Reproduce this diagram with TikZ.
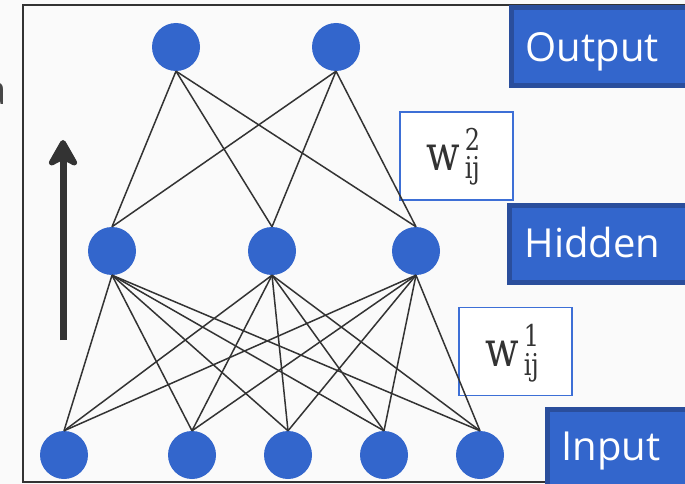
\documentclass[tikz,border=0pt]{standalone}
\usepackage{fontspec}
\setmainfont{Latin Modern Roman}
\newfontfamily\labelfont{Open Sans}
\newfontfamily\weightfont[FakeStretch=0.8]{DejaVu Serif}
\usetikzlibrary{arrows.meta}

\definecolor{neuron}{HTML}{3366CC}
\definecolor{layerfill}{HTML}{3366CC}
\definecolor{layerrim}{HTML}{2A4E9C}
\definecolor{weightrim}{HTML}{3D6FD6}
\definecolor{ink}{HTML}{333333}
\definecolor{paper}{HTML}{FAFAFA}

% weight symbol w with stacked indices, built in text mode
\newcommand{\weightsym}[1]{%
  w\kern5pt\rlap{\raisebox{20pt}{\fontsize{30}{32}\selectfont #1}}%
  \raisebox{-9pt}{\fontsize{30}{32}\selectfont ij}}

\tikzset{
  neuron/.style={circle, fill=neuron, minimum size=48pt, inner sep=0pt},
  synapse/.style={draw=ink, line width=1.5pt},
  layerbox/.style={rectangle, fill=layerfill, draw=layerrim, line width=5pt,
    inner sep=0pt, anchor=north west},
  layertext/.style={inner sep=0pt, anchor=base west, text=white,
    font=\labelfont\fontsize{40}{44}\selectfont},
  weightbox/.style={rectangle, fill=white, draw=weightrim, line width=1.5pt,
    minimum width=113pt, minimum height=88pt, inner sep=0pt},
  weighttext/.style={inner sep=0pt, anchor=base west, text=ink,
    font=\weightfont\fontsize{49}{52}\selectfont},
}

\begin{document}
\begin{tikzpicture}[x=1pt, y=-1pt]
  % canvas
  \fill[paper] (0,0) rectangle (685,484);
  \useasboundingbox (0,0) rectangle (685,484);

  % clipped letter at the left edge
  \node[inner sep=0pt, anchor=base east, text=ink!90,
        font=\labelfont\fontsize{40}{44}\selectfont] (stray) at (7,105) {a};

  % frame
  \draw[ink, line width=2pt] (23,5) rectangle (700,482);

  % upward arrow
  \coordinate (arrowfoot) at (63,340);
  \coordinate (arrowtip) at (63,140);
  \draw[ink, line width=7pt,
        -{Stealth[length=32pt, width=36pt, inset=9pt, round]}]
        (arrowfoot) -- (arrowtip);

  % neurons
  \node[neuron] (o1) at (176,47) {};
  \node[neuron] (o2) at (336,47) {};
  \node[neuron] (h1) at (112,251) {};
  \node[neuron] (h2) at (272,251) {};
  \node[neuron] (h3) at (416,251) {};
  \node[neuron] (i1) at (64,455) {};
  \node[neuron] (i2) at (192,455) {};
  \node[neuron] (i3) at (288,455) {};
  \node[neuron] (i4) at (384,455) {};
  \node[neuron] (i5) at (480,455) {};

  % weight labels
  \node[weightbox] (w2) at (456.5,156) {};
  \node[weighttext] (w2text) at (426,170) {\weightsym{2}};
  \node[weightbox] (w1) at (515.5,351.5) {};
  \node[weighttext] (w1text) at (485,366) {\weightsym{1}};

  % connections: output <- hidden
  \foreach \o in {o1,o2}
    \foreach \h in {h1,h2,h3}
      \draw[synapse] (\o.south) -- (\h.north);
  % connections: hidden <- input
  \foreach \h in {h1,h2,h3}
    \foreach \i in {i1,i2,i3,i4,i5}
      \draw[synapse] (\h.south) -- (\i.north);

  % layer tags
  \node[layerbox, minimum width=200pt, minimum height=78pt] (outbox) at (508.5,5.5) {};
  \node[layertext] (outtext) at (525.5,62) {Output};
  \node[layerbox, minimum width=200pt, minimum height=77pt] (hidbox) at (506.5,202.5) {};
  \node[layertext] (hidtext) at (524.5,257) {Hidden};
  \node[layerbox, minimum width=160pt, minimum height=90pt] (inbox) at (544.5,406.5) {};
  \node[layertext] (intext) at (561.5,460) {Input};
\end{tikzpicture}
\end{document}
